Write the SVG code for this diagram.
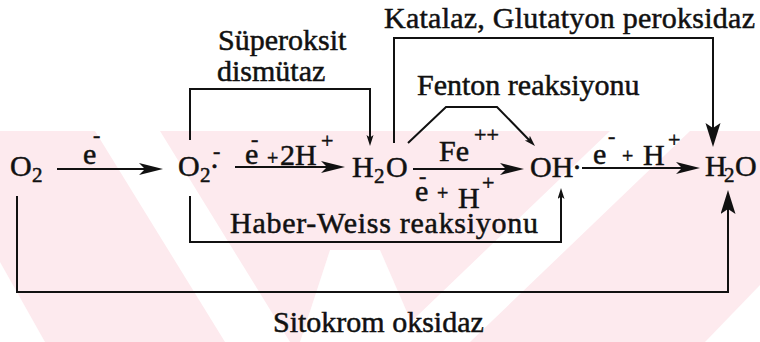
<svg xmlns="http://www.w3.org/2000/svg" width="760" height="342" viewBox="0 0 760 342">
<defs>
<style>
.t{font-family:"Liberation Serif","Times New Roman",serif;font-size:30px;fill:#111;stroke:#111;stroke-width:0.5}
.s{font-size:21px}
.p{font-size:22px}
.q{font-size:20px}
.c{fill:none;stroke:#111;stroke-width:2}
.wm{fill:#fdeaee}
.wh{fill:#ffffff}
</style>
<marker id="ah" markerUnits="userSpaceOnUse" markerWidth="26" markerHeight="14" refX="16" refY="7" orient="auto"><path d="M0,1 L24,7 L0,13 L6,7 Z" fill="#111"/></marker>
<marker id="as" markerUnits="userSpaceOnUse" markerWidth="12" markerHeight="8" refX="5" refY="3.5" orient="auto"><path d="M0,0 L11,3.5 L0,7 L2.5,3.5 Z" fill="#111"/></marker>
<marker id="al" markerUnits="userSpaceOnUse" markerWidth="26" markerHeight="16" refX="14" refY="7.5" orient="auto"><path d="M0,0 L24,7.5 L0,15 L5,7.5 Z" fill="#111"/></marker>
</defs>
<rect width="760" height="342" fill="#ffffff"/>
<g id="watermark">
<rect class="wm" x="0" y="131" width="760" height="211"/>
<polygon class="wh" points="95,131 160,131 290,342 225,342"/>
<polygon class="wh" points="0,205 0,262 45,342 0,342"/>
<polygon class="wh" points="610,131 690,131 470,342 390,342"/>
<polygon class="wh" points="330,250 380,250 420,342 300,342"/>
<polygon class="wh" points="705,342 760,285 760,342"/>
</g>
<g id="connectors">
<line class="c" x1="57" y1="169" x2="155" y2="169" marker-end="url(#ah)"/>
<line class="c" x1="235" y1="167" x2="337" y2="167" marker-end="url(#ah)"/>
<line class="c" x1="413" y1="169" x2="516" y2="169" marker-end="url(#ah)"/>
<line class="c" x1="582" y1="168" x2="692" y2="168" marker-end="url(#ah)"/>
<path class="c" d="M190,140 V89 H370 V140" marker-end="url(#as)"/>
<path class="c" d="M394,143 V38 H713 V137" marker-end="url(#al)"/>
<path class="c" d="M408,143 L446,107 H497 L530.8,141.7" marker-end="url(#as)"/>
<path class="c" d="M190,196 V242 H561 V194" marker-end="url(#as)"/>
<path class="c" d="M17,196 V292 H728 V200" marker-end="url(#al)"/>
</g>
<g id="node-o2">
<text class="t" x="10" y="176">O<tspan class="s" x="32" y="182">2</tspan></text>
</g>
<g id="node-superoxide">
<text class="t" x="178" y="176">O<tspan class="s" x="200" y="182">2</tspan><tspan x="209.5" y="176">·</tspan><tspan class="p" x="213" y="158">-</tspan></text>
</g>
<g id="node-h2o2">
<text class="t" x="352" y="177">H<tspan class="s" x="374" y="183">2</tspan><tspan x="386" y="177">O</tspan></text>
</g>
<g id="node-oh">
<text class="t" x="530" y="177">OH<tspan x="572" y="177">·</tspan></text>
</g>
<g id="node-h2o">
<text class="t" x="705" y="176">H<tspan class="s" x="724" y="182">2</tspan><tspan x="735" y="176">O</tspan></text>
</g>
<g id="label-a1">
<text class="t" x="83" y="164">e<tspan class="p" x="93" y="142">-</tspan></text>
</g>
<g id="label-a2">
<text class="t" x="245" y="164">e<tspan class="p" x="251" y="146">-</tspan><tspan class="q" x="267" y="165">+</tspan><tspan x="280" y="165">2H</tspan><tspan class="p" x="321" y="148">+</tspan></text>
</g>
<g id="label-a3">
<text class="t" x="439" y="161">Fe<tspan class="p" x="474" y="141.5">++</tspan></text>
<text class="t" x="415" y="201">e<tspan class="p" x="419" y="183">-</tspan><tspan class="q" x="437" y="200">+</tspan><tspan x="458" y="208">H</tspan><tspan class="p" x="482" y="189.5">+</tspan></text>
</g>
<g id="label-a4">
<text class="t" x="593" y="164">e<tspan class="p" x="608" y="143">-</tspan><tspan class="q" x="622" y="163">+</tspan><tspan x="643" y="165">H</tspan><tspan class="p" x="668" y="146.5">+</tspan></text>
</g>
<g id="labels">
<text class="t" x="218" y="50">Süperoksit</text>
<text class="t" x="217" y="81">dismütaz</text>
<text class="t" x="384" y="28" textLength="371">Katalaz, Glutatyon peroksidaz</text>
<text class="t" x="417" y="95">Fenton reaksiyonu</text>
<text class="t" x="230" y="233" textLength="308">Haber-Weiss reaksiyonu</text>
<text class="t" x="273" y="332">Sitokrom oksidaz</text>
</g>
</svg>
